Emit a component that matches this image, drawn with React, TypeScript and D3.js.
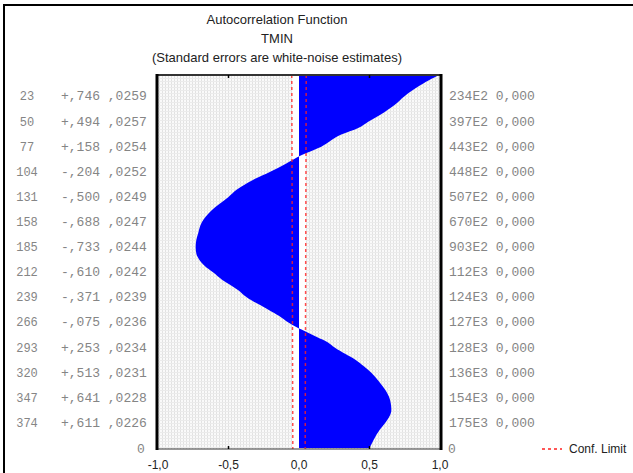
import React, { useEffect, useRef } from "react";
import * as d3 from "d3";

// labelled rows (lag, r, se, Box-Ljung Q, p)
const rowLags = [23, 50, 77, 104, 131, 158, 185, 212, 239, 266, 293, 320, 347, 374];
const rowAcf = ["+,746", "+,494", "+,158", "-,204", "-,500", "-,688", "-,733", "-,610", "-,371", "-,075", "+,253", "+,513", "+,641", "+,611"];
const rowSe = [0.0259, 0.0257, 0.0254, 0.0252, 0.0249, 0.0247, 0.0244, 0.0242, 0.0239, 0.0236, 0.0234, 0.0231, 0.0228, 0.0226];
const rowQ = ["234E2", "397E2", "443E2", "448E2", "507E2", "670E2", "903E2", "112E3", "124E3", "127E3", "128E3", "136E3", "154E3", "175E3"];
const rowP = ["0,000", "0,000", "0,000", "0,000", "0,000", "0,000", "0,000", "0,000", "0,000", "0,000", "0,000", "0,000", "0,000", "0,000"];

// autocorrelation read along the blue edge
const acfLags = [1, 4, 11, 17, 23, 32, 43, 50, 57, 64, 77, 86, 95, 104, 113, 123, 131, 145, 158, 170, 177, 185, 192, 199, 205, 212, 220, 231, 239, 252, 259, 266, 271, 276, 282, 287, 293, 300, 306, 313, 320, 328, 338, 347, 360, 374, 381, 392, 401];
const acfValues = [0.98, 0.94, 0.86, 0.8, 0.746, 0.68, 0.574, 0.494, 0.42, 0.3, 0.158, 0.02, -0.09, -0.204, -0.33, -0.44, -0.5, -0.617, -0.688, -0.715, -0.728, -0.733, -0.728, -0.705, -0.67, -0.61, -0.546, -0.433, -0.371, -0.22, -0.14, -0.075, -0.02, 0.05, 0.13, 0.2, 0.253, 0.33, 0.4, 0.46, 0.513, 0.56, 0.61, 0.641, 0.655, 0.611, 0.574, 0.53, 0.5];

const xTicks = [-1, -0.5, 0, 0.5, 1];
const xTickLabels = ["-1,0", "-0,5", "0,0", "0,5", "1,0"];

function App() {
  const ref = useRef<SVGSVGElement>(null);

  useEffect(() => {
    drawChart();
  }, []);

  const drawChart = () => {
    const w = 633;
    const h = 473;
    const left = 158, right = 440, top = 75, bottom = 449;

    const svg = d3.select(ref.current);
    svg.selectAll("*").remove();

    svg.append("rect").attr("width", w).attr("height", h).attr("fill", "#fff");
    svg.append("rect")
      .attr("x", 4).attr("y", 5).attr("width", 700).attr("height", 600)
      .attr("fill", "none").attr("stroke", "#000").attr("stroke-width", 2);

    const x = d3.scaleLinear().domain([-1, 1]).range([left, right]);
    const y = d3.scaleLinear().domain([0, 402]).range([top, bottom]);

    // background grid pattern
    const defs = svg.append("defs");
    const pat = defs.append("pattern")
      .attr("id", "grid").attr("width", 3).attr("height", 3)
      .attr("patternUnits", "userSpaceOnUse");
    pat.append("rect").attr("width", 3).attr("height", 3).attr("fill", "#fafafa");
    pat.append("rect").attr("width", 1).attr("height", 3).attr("fill", "#e2e2e2");
    pat.append("rect").attr("width", 3).attr("height", 1).attr("fill", "#ebebeb");

    svg.append("rect")
      .attr("x", left).attr("y", top)
      .attr("width", right - left).attr("height", bottom - top)
      .attr("fill", "url(#grid)");

    // white band between the limits
    svg.append("rect")
      .attr("x", x(-0.048)).attr("y", top)
      .attr("width", x(0.048) - x(-0.048)).attr("height", bottom - top)
      .attr("fill", "#fff");

    // acf area
    const pts = acfLags.map((l, i) => [l, acfValues[i]] as [number, number]);
    const area = d3.area<[number, number]>()
      .y((d) => y(d[0]))
      .x0(x(0))
      .x1((d) => x(d[1]))
      .curve(d3.curveMonotoneY);
    svg.append("path").datum(pts).attr("d", area).attr("fill", "#0000ff");

    // confidence limits
    const sePts = rowLags.map((l, i) => [l, rowSe[i] * 1.96] as [number, number]);
    sePts.unshift([0, 0.0262 * 1.96]);
    sePts.push([402, 0.0224 * 1.96]);
    [1, -1].forEach((s) => {
      const line = d3.line<[number, number]>()
        .x((d) => x(s * d[1]))
        .y((d) => y(d[0]));
      svg.append("path").datum(sePts).attr("d", line)
        .attr("fill", "none").attr("stroke", "#ff2020").attr("stroke-opacity", 0.8)
        .attr("stroke-width", 1.5).attr("stroke-dasharray", "3,3");
    });

    // frame
    svg.append("line").attr("x1", left).attr("x2", right).attr("y1", top).attr("y2", top)
      .attr("stroke", "#333").attr("stroke-width", 2);
    svg.append("line").attr("x1", left).attr("x2", right).attr("y1", bottom).attr("y2", bottom)
      .attr("stroke", "#333").attr("stroke-width", 1);
    [left - 1, right + 1].forEach((xx) => {
      svg.append("line").attr("x1", xx).attr("x2", xx).attr("y1", top - 1).attr("y2", bottom + 1)
        .attr("stroke", "#000").attr("stroke-width", 3);
    });
    [-0.5, 0.5].forEach((t) => {
      svg.append("line").attr("x1", x(t)).attr("x2", x(t)).attr("y1", top).attr("y2", top + 3)
        .attr("stroke", "#000").attr("stroke-width", 1.5);
      svg.append("line").attr("x1", x(t)).attr("x2", x(t)).attr("y1", bottom).attr("y2", bottom - 3)
        .attr("stroke", "#000").attr("stroke-width", 1.5);
    });

    // x tick labels
    svg.selectAll(".xt").data(xTicks).enter().append("text")
      .attr("x", (d) => x(d)).attr("y", 469)
      .attr("text-anchor", "middle")
      .attr("font-family", "Liberation Sans, Arial, sans-serif")
      .attr("font-size", 12).attr("fill", "#222")
      .text((d, i) => xTickLabels[i]);

    // row labels
    const mono = "Liberation Mono, Courier New, monospace";
    const rows = svg.append("g").attr("font-family", mono).attr("font-size", 13).attr("fill", "#858585");
    rowLags.forEach((l, i) => {
      const yy = y(l) + 4;
      rows.append("text").attr("x", 27).attr("y", yy).attr("text-anchor", "middle").attr("font-size", 12).text(l);
      rows.append("text").attr("x", 61).attr("y", yy).text(rowAcf[i] + " " + d3.format(".4f")(rowSe[i]).replace("0.", ","));
      rows.append("text").attr("x", 449).attr("y", yy).text(rowQ[i] + " " + rowP[i]);
    });
    rows.append("text").attr("x", 141).attr("y", bottom + 4).attr("text-anchor", "middle").text("0");
    rows.append("text").attr("x", 452).attr("y", bottom + 4).attr("text-anchor", "middle").text("0");

    // titles
    const titles = ["Autocorrelation Function", "TMIN", "(Standard errors are white-noise estimates)"];
    svg.selectAll(".title").data(titles).enter().append("text")
      .attr("x", 277).attr("y", (d, i) => 24 + i * 19)
      .attr("text-anchor", "middle")
      .attr("font-family", "Liberation Sans, Arial, sans-serif")
      .attr("font-size", 13).attr("fill", "#222")
      .text((d) => d);

    // legend
    svg.append("line").attr("x1", 542).attr("x2", 562).attr("y1", 449).attr("y2", 449)
      .attr("stroke", "#ff2020").attr("stroke-width", 1.5).attr("stroke-dasharray", "3,3");
    svg.append("text").attr("x", 569).attr("y", 453)
      .attr("font-family", "Liberation Sans, Arial, sans-serif")
      .attr("font-size", 12).attr("fill", "#222").text("Conf. Limit");
  };

  return (
    <svg ref={ref} width={633} height={473}
      style={{ position: "absolute", left: 0, top: 0, display: "block" }} />
  );
}

export default App;
